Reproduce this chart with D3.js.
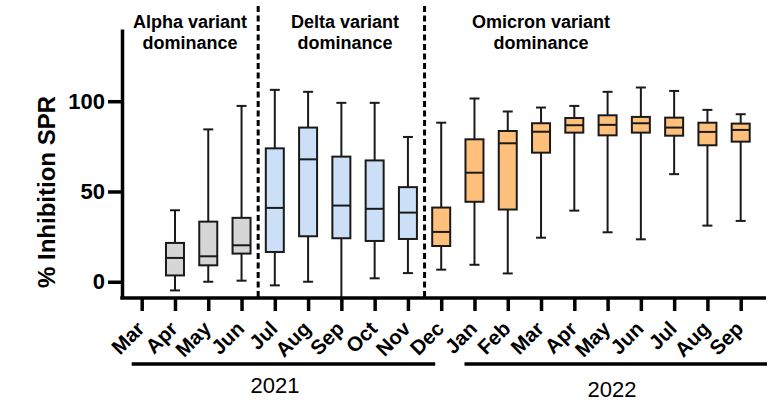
<!DOCTYPE html>
<html>
<head>
<meta charset="utf-8">
<script src="https://cdn.jsdelivr.net/npm/d3@7"></script>
<style>
  body { margin: 0; background: #fff; }
  svg { display: block; font-family: "Liberation Sans", Arial, sans-serif; }
</style>
</head>
<body>
<div id="chart"></div>
<script>
  // Months shown on the x axis (Mar 2021 .. Sep 2022)
  const months = ["Mar", "Apr", "May", "Jun", "Jul", "Aug", "Sep", "Oct", "Nov", "Dec",
                  "Jan", "Feb", "Mar", "Apr", "May", "Jun", "Jul", "Aug", "Sep"];
  const years = [2021, 2021, 2021, 2021, 2021, 2021, 2021, 2021, 2021, 2021,
                 2022, 2022, 2022, 2022, 2022, 2022, 2022, 2022, 2022];
  const variant = ["none", "alpha", "alpha", "alpha", "delta", "delta", "delta", "delta", "delta",
                   "omicron", "omicron", "omicron", "omicron", "omicron", "omicron", "omicron", "omicron", "omicron", "omicron"];

  // Box plot values (% inhibition), null = no samples
  const whiskerLow  = [null, -4.8, 0,    0.6,  -2,   0,    -10,  1.9,  4.8,  6.7,  9.4,  4.6,  24.4, 39.4, 27.4, 23.5, 59.6, 31.1, 33.7];
  const q1          = [null, 3.5,  9.1,  15.6, 16.5, 25.2, 24.1, 22.6, 23.7, 19.8, 44.3, 40,   71.5, 82.6, 81.1, 82.6, 80.9, 75.6, 77.6];
  const median      = [null, 13.2, 14.1, 20.2, 40.9, 67.8, 42.2, 40.4, 38.3, 27.6, 60.4, 76.7, 83.1, 86.7, 86.9, 87.8, 85.4, 83,   84.1];
  const q3          = [null, 21.5, 33.3, 35.4, 73.9, 85.4, 69.3, 67.2, 52.4, 41.1, 78.9, 83.5, 87.8, 90.7, 92.2, 91.3, 90.9, 88.1, 87.6];
  const whiskerHigh = [null, 39.6, 84.4, 97.4, 106.3, 105.2, 99.1, 99.1, 80.2, 88.1, 101.5, 94.3, 96.5, 97.4, 105.2, 107.6, 105.7, 95.2, 92.8];

  const yTicks = [0, 50, 100];

  const fillColor = { alpha: "#d6d6d6", delta: "#cbdff6", omicron: "#ffc07c" };

  const width = 776, height = 402;
  const svg = d3.select("#chart").append("svg")
    .attr("width", width)
    .attr("height", height);

  const keys = months.map((m, i) => years[i] + "-" + m);
  const data = keys.map((k, i) => ({
    key: k, month: months[i], year: years[i], variant: variant[i],
    lo: whiskerLow[i], q1: q1[i], med: median[i], q3: q3[i], hi: whiskerHigh[i]
  }));

  const x = d3.scalePoint().domain(keys).range([141.7, 740.7]);
  const y = d3.scaleLinear().domain([-9, 140]).range([298, 29]);

  const axisLeftX = 122, axisRightX = 766;

  // Dashed separators between variant periods
  const sep1 = (x("2021-Jun") + x("2021-Jul")) / 2;
  const sep2 = (x("2021-Nov") + x("2021-Dec")) / 2;
  [sep1, sep2].forEach(sx => {
    svg.append("line")
      .attr("x1", sx).attr("x2", sx)
      .attr("y1", 6).attr("y2", y(-9))
      .attr("stroke", "#000")
      .attr("stroke-width", 3)
      .attr("stroke-dasharray", "6,3.5");
  });

  // Boxes
  const boxW = 18, capW = 10;
  const boxes = svg.append("g")
    .selectAll("g")
    .data(data.filter(d => d.med !== null))
    .join("g")
    .attr("transform", d => `translate(${x(d.key)},0)`);

  boxes.append("line")
    .attr("y1", d => y(Math.max(d.lo, -9))).attr("y2", d => y(d.hi))
    .attr("stroke", "#1a1a1a").attr("stroke-width", 2);
  boxes.append("line")
    .attr("x1", -capW / 2).attr("x2", capW / 2)
    .attr("y1", d => y(d.hi)).attr("y2", d => y(d.hi))
    .attr("stroke", "#1a1a1a").attr("stroke-width", 2);
  boxes.filter(d => d.lo >= -9).append("line")
    .attr("x1", -capW / 2).attr("x2", capW / 2)
    .attr("y1", d => y(d.lo)).attr("y2", d => y(d.lo))
    .attr("stroke", "#1a1a1a").attr("stroke-width", 2);
  boxes.append("rect")
    .attr("x", -boxW / 2).attr("width", boxW)
    .attr("y", d => y(d.q3))
    .attr("height", d => y(d.q1) - y(d.q3))
    .attr("fill", d => fillColor[d.variant])
    .attr("stroke", "#1a1a1a").attr("stroke-width", 2);
  boxes.append("line")
    .attr("x1", -boxW / 2).attr("x2", boxW / 2)
    .attr("y1", d => y(d.med)).attr("y2", d => y(d.med))
    .attr("stroke", "#1a1a1a").attr("stroke-width", 2);

  // Y axis
  const yAxis = svg.append("g")
    .attr("transform", `translate(${axisLeftX},0)`)
    .call(d3.axisLeft(y).tickValues(yTicks).tickSize(14).tickSizeOuter(0).tickPadding(3));
  yAxis.select(".domain").attr("stroke-width", 3.5);
  yAxis.selectAll(".tick line").attr("stroke-width", 3.5);
  yAxis.selectAll(".tick text")
    .attr("fill", "#000")
    .style("font-size", "22px")
    .style("font-weight", "bold")
    .style("font-family", "'Liberation Sans', Arial, sans-serif");

  // X axis
  const xAxis = svg.append("g")
    .attr("transform", `translate(0,${y(-9)})`)
    .call(d3.axisBottom(x).tickSize(13).tickSizeOuter(0).tickFormat(""));
  xAxis.select(".domain").remove();
  xAxis.selectAll(".tick line").attr("stroke-width", 3.5);
  xAxis.append("line")
    .attr("x1", axisLeftX - 1.75).attr("x2", axisRightX)
    .attr("stroke", "#000").attr("stroke-width", 3.5);

  // Rotated month labels
  svg.append("g")
    .selectAll("text")
    .data(data)
    .join("text")
    .attr("transform", d => `translate(${x(d.key) + 4},330) rotate(-45)`)
    .attr("text-anchor", "end")
    .style("font-size", "20.5px")
    .style("font-weight", "bold")
    .text(d => d.month);

  // Year brackets
  const yearGroups = [
    { year: "2021", x1: x("2021-Mar") - 10, x2: x("2021-Dec") - 6 },
    { year: "2022", x1: x("2022-Jan") - 10, x2: axisRightX + 1 }
  ];
  yearGroups.forEach(g => {
    svg.append("line")
      .attr("x1", g.x1).attr("x2", g.x2)
      .attr("y1", 364).attr("y2", 364)
      .attr("stroke", "#000").attr("stroke-width", 3.5);
  });
  svg.append("text").attr("x", 275).attr("y", 393)
    .attr("text-anchor", "middle").style("font-size", "22px").text("2021");
  svg.append("text").attr("x", 612).attr("y", 397)
    .attr("text-anchor", "middle").style("font-size", "22px").text("2022");

  // Y axis title
  svg.append("text")
    .attr("transform", "translate(55,192) rotate(-90)")
    .attr("text-anchor", "middle")
    .style("font-size", "24px")
    .style("font-weight", "bold")
    .text("% Inhibition SPR");

  // Variant period annotations
  const notes = [
    { cx: 190, lines: ["Alpha variant", "dominance"] },
    { cx: 345, lines: ["Delta variant", "dominance"] },
    { cx: 541, lines: ["Omicron variant", "dominance"] }
  ];
  notes.forEach(n => {
    n.lines.forEach((t, i) => {
      svg.append("text")
        .attr("x", n.cx).attr("y", 28 + i * 21)
        .attr("text-anchor", "middle")
        .style("font-size", "18px")
        .style("font-weight", "bold")
        .text(t);
    });
  });
</script>
</body>
</html>
